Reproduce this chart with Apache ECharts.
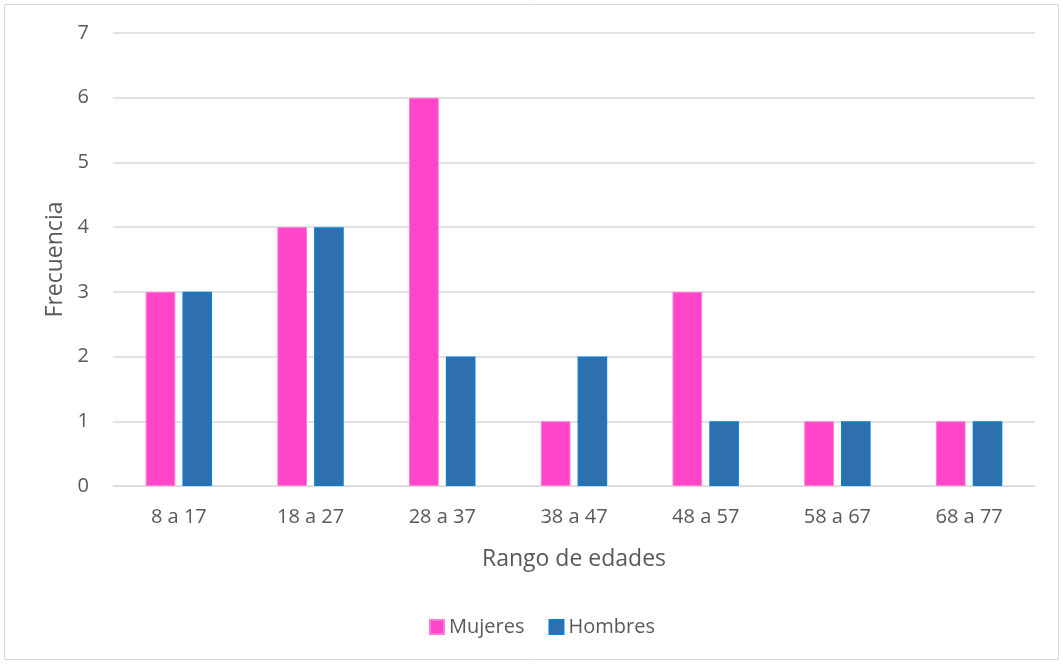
<!DOCTYPE html>
<html>
<head>
<meta charset="utf-8">
<script src="https://cdn.jsdelivr.net/npm/echarts@6/dist/echarts.min.js"></script>
<style>
  html, body { margin: 0; padding: 0; background: #fff; }
  #chart { width: 1063px; height: 664px; }
</style>
</head>
<body>
<div id="chart"></div>
<script>
var categories = ["8 a 17", "18 a 27", "28 a 37", "38 a 47", "48 a 57", "58 a 67", "68 a 77"];
var mujeres = [3, 4, 6, 1, 3, 1, 1];
var hombres = [3, 4, 2, 2, 1, 1, 1];

var myChart = echarts.init(document.getElementById("chart"));
var txt = "#595959";
var font = "Open Sans";
var option = {
  animation: false,
  graphic: [{
    type: "rect",
    shape: { x: 4.5, y: 4.5, width: 1054, height: 655 },
    style: { fill: "none", stroke: "#d9d9d9", lineWidth: 1 }
  }],
  grid: { left: 113, right: 28, top: 33, bottom: 178 },
  legend: {
    data: ["Mujeres", "Hombres"],
    bottom: 22,
    left: 424,
    itemWidth: 14,
    itemHeight: 14,
    itemGap: 24,
    icon: "rect",
    textStyle: { color: txt, fontSize: 20, fontFamily: font }
  },
  xAxis: {
    type: "category",
    data: categories,
    name: "Rango de edades",
    nameLocation: "middle",
    nameGap: 62,
    nameTextStyle: { color: txt, fontSize: 23, fontFamily: font },
    axisTick: { show: false },
    axisLine: { lineStyle: { color: "#d9d9d9", width: 1 } },
    axisLabel: { color: txt, fontSize: 20, fontFamily: font, margin: 21 }
  },
  yAxis: {
    type: "value",
    min: 0,
    max: 7,
    interval: 1,
    name: "Frecuencia",
    nameLocation: "middle",
    nameGap: 45,
    nameTextStyle: { color: txt, fontSize: 23, fontFamily: font },
    axisLine: { show: false },
    axisTick: { show: false },
    axisLabel: { color: txt, fontSize: 20, fontFamily: font, margin: 24 },
    splitLine: { lineStyle: { color: "#d9d9d9", width: 1.5 } }
  },
  series: [
    {
      name: "Mujeres",
      type: "bar",
      data: mujeres,
      barWidth: "22.5%",
      barGap: "24%",
      itemStyle: { color: "#ff45c8", borderColor: "#ff7ad6", borderWidth: 1 }
    },
    {
      name: "Hombres",
      type: "bar",
      data: hombres,
      barWidth: "22.5%",
      itemStyle: { color: "#2e70ad", borderColor: "#0f7ccc", borderWidth: 1.5 }
    }
  ]
};
myChart.setOption(option);
</script>
</body>
</html>
